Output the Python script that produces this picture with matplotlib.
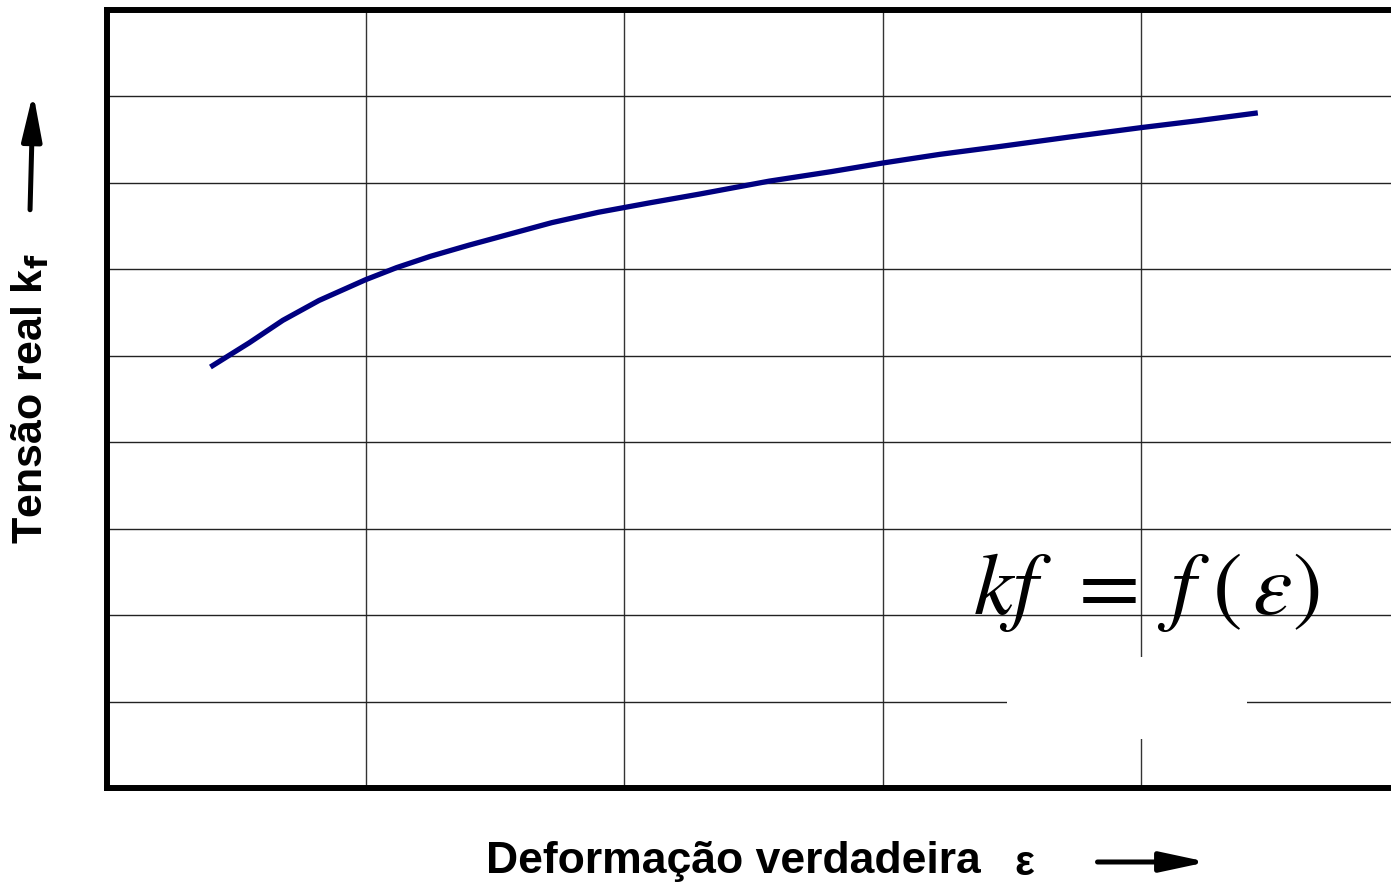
import matplotlib
matplotlib.use("Agg")
import matplotlib.pyplot as plt
from matplotlib.patches import Rectangle

# curve (grid units)
strain = [0.40, 0.55, 0.68, 0.82, 1.00, 1.12, 1.25, 1.40, 1.56, 1.72, 1.90, 2.10,
          2.29, 2.56, 2.80, 3.00, 3.22, 3.45, 3.72, 4.00, 4.22, 4.45]
stress = [4.87, 5.15, 5.41, 5.64, 5.88, 6.02, 6.15, 6.28, 6.41, 6.54, 6.66, 6.77,
          6.87, 7.02, 7.13, 7.23, 7.33, 7.42, 7.53, 7.64, 7.72, 7.81]

x_grid = [1, 2, 3, 4]
y_grid = [1, 2, 3, 4, 5, 6, 7, 8]

plt.rcParams["mathtext.fontset"] = "stix"

fig = plt.figure(figsize=(13.91, 8.85), dpi=100)
ax = fig.add_axes([0.0769, 0.1096, 0.9296, 0.8791])
ax.set_xlim(0, 5)
ax.set_ylim(0, 9)

for xv in x_grid:
    ax.axvline(xv, color="#333333", lw=1.0, zorder=1)
for yv in y_grid:
    ax.axhline(yv, color="#222222", lw=1.0, zorder=1)

# white patch under the formula
ax.add_patch(Rectangle((3.48, 0.57), 0.93, 0.95, facecolor="white", edgecolor="none", zorder=2))

ax.plot(strain, stress, color="#000080", lw=3.8, zorder=3, solid_capstyle="butt")

ax.text(4.02, 2.29, r"$kf\;\,=\;f\;(\,\varepsilon)$", fontsize=64, ha="center", va="center", zorder=4)

ax.set_xticks([])
ax.set_yticks([])
ax.spines["right"].set_visible(False)
for s in ["left", "bottom", "top"]:
    ax.spines[s].set_linewidth(4.3)

arrow = dict(arrowstyle="-|>,head_length=2.8,head_width=0.6", lw=3.6, color="black",
             shrinkA=0, shrinkB=0)

# axis labels with arrows
fig.text(0.0216, 0.55, r"Tensão real k$_{\mathbf{f}}$", rotation=90, fontsize=31, fontweight="bold",
         family="Liberation Sans", math_fontfamily="dejavusans", ha="center", va="center")
ax.annotate("", xy=(0.0238, 0.895), xytext=(0.0216, 0.763), xycoords="figure fraction",
            textcoords="figure fraction", arrowprops=arrow, annotation_clip=False)

fig.text(0.5275, 0.027, "Deformação verdadeira", fontsize=32, fontweight="bold",
         family="Liberation Sans", ha="center", va="center")
fig.text(0.736, 0.024, "ε", fontsize=30, fontweight="bold", family="Liberation Sans",
         ha="center", va="center")
ax.annotate("", xy=(0.868, 0.026), xytext=(0.789, 0.026), xycoords="figure fraction",
            textcoords="figure fraction", arrowprops=arrow, annotation_clip=False)

fig.savefig("out.png", dpi=100)
